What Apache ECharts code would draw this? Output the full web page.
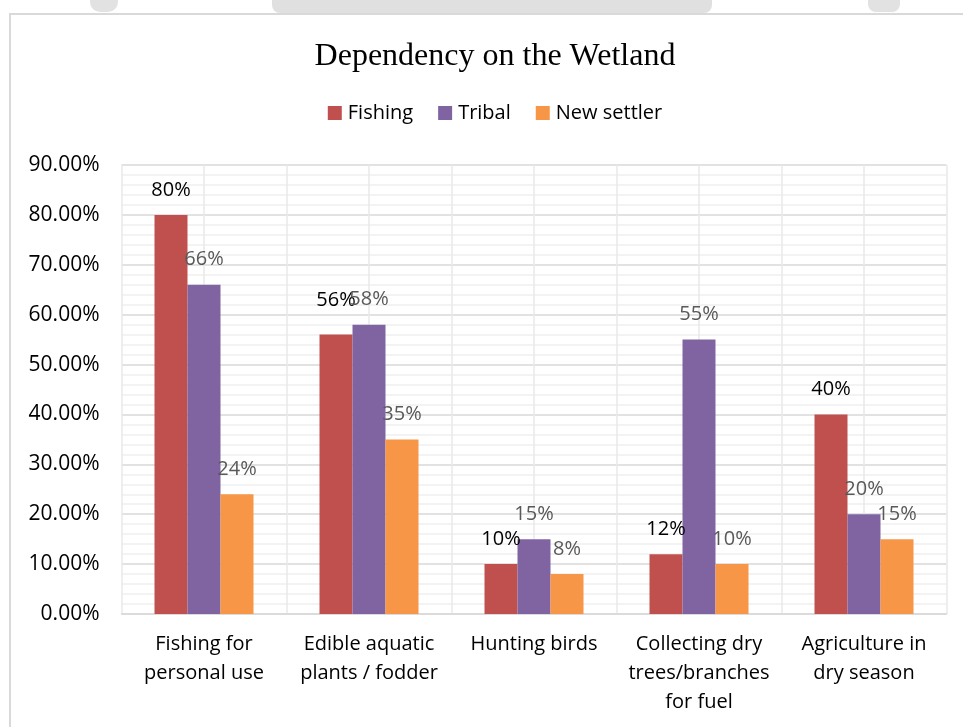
<!DOCTYPE html>
<html>
<head>
<meta charset="utf-8">
<script src="https://cdn.jsdelivr.net/npm/echarts@6/dist/echarts.min.js"></script>
<style>
html,body{margin:0;padding:0;background:#fff;overflow:hidden;width:963px;height:727px;}
#chart{width:990px;height:727px;}
</style>
</head>
<body>
<div id="chart"></div>
<script>
const categories = ['Fishing for\npersonal use', 'Edible aquatic\nplants / fodder', 'Hunting birds', 'Collecting dry\ntrees/branches\nfor fuel', 'Agriculture in\ndry season'];
const fishing = [80, 56, 10, 12, 40];
const tribal = [66, 58, 15, 55, 20];
const newSettler = [24, 35, 8, 10, 15];
const yTicks = { min: 0, max: 90, interval: 10 };

const chart = echarts.init(document.getElementById('chart'), null, { renderer: 'canvas' });
const font = 'Open Sans';

function makeSeries(name, values, color, labelColor) {
  return {
    name: name,
    type: 'bar',
    xAxisIndex: 0,
    data: values.map(function (v, i) {
      const item = { value: v };
      if (name === 'Fishing' && i === 1) item.label = { offset: [0, -9] };
      return item;
    }),
    itemStyle: { color: color },
    barGap: '0%',
    barCategoryGap: '40%',
    label: {
      show: true,
      position: 'top',
      distance: 15,
      formatter: function (p) { return p.value + '%'; },
      color: labelColor,
      fontFamily: font,
      fontSize: 20
    }
  };
}

const option = {
  backgroundColor: '#ffffff',
  animation: false,
  title: {
    text: 'Dependency on the Wetland',
    left: 'center',
    top: 36,
    textStyle: { fontFamily: 'Liberation Serif', fontSize: 32, fontWeight: 'normal', color: '#000' }
  },
  legend: {
    top: 98,
    left: 'center',
    icon: 'rect',
    itemWidth: 14,
    itemHeight: 14,
    itemGap: 25,
    textStyle: { fontFamily: font, fontSize: 20, color: '#000', padding: [0, 0, 0, 1] },
    data: ['Fishing', 'Tribal', 'New settler']
  },
  grid: { left: 121.5, right: 43.5, top: 165, bottom: 113 },
  xAxis: [
    {
      type: 'category',
      data: categories,
      axisLine: { show: true, lineStyle: { color: '#d9d9d9', width: 1.5 } },
      axisTick: { show: false },
      splitLine: { show: false },
      axisLabel: { interval: 0, fontFamily: font, fontSize: 20, lineHeight: 29, color: '#000', margin: 16 }
    },
    {
      type: 'category',
      position: 'bottom',
      data: ['', '', '', '', '', '', '', '', '', ''],
      axisLine: { show: false },
      axisTick: { show: false },
      axisLabel: { show: false },
      splitLine: { show: true, lineStyle: { color: '#e8e8e8', width: 1.5 } }
    }
  ],
  yAxis: {
    type: 'value',
    min: yTicks.min,
    max: yTicks.max,
    interval: yTicks.interval,
    axisLine: { show: false },
    axisTick: { show: false },
    minorTick: { show: false, splitNumber: 5 },
    minorSplitLine: { show: true, lineStyle: { color: '#efefef', width: 1.5 } },
    splitLine: { show: true, lineStyle: { color: '#d9d9d9', width: 1.5 } },
    axisLabel: {
      fontFamily: font, fontSize: 21, color: '#000', margin: 22,
      formatter: function (v) { return v.toFixed(2) + '%'; }
    }
  },
  series: [
    makeSeries('Fishing', fishing, '#C0504D', '#000000'),
    makeSeries('Tribal', tribal, '#8064A2', '#595959'),
    makeSeries('New settler', newSettler, '#F79646', '#595959')
  ],
  graphic: [
    { type: 'rect', silent: true, z: -1, shape: { x: 90, y: 0, width: 28, height: 12, r: [0, 0, 10, 10] }, style: { fill: '#e2e2e2' } },
    { type: 'rect', silent: true, z: -1, shape: { x: 272, y: 0, width: 440, height: 13, r: [0, 0, 8, 8] }, style: { fill: '#e0e0e0' } },
    { type: 'rect', silent: true, z: -1, shape: { x: 868, y: 0, width: 32, height: 12, r: [0, 0, 8, 8] }, style: { fill: '#e2e2e2' } },
    { type: 'rect', silent: true, z: -1, shape: { x: 10, y: 14, width: 1000, height: 800 }, style: { fill: 'none', stroke: '#d9d9d9', lineWidth: 2 } }
  ]
};
chart.setOption(option);
</script>
</body>
</html>
